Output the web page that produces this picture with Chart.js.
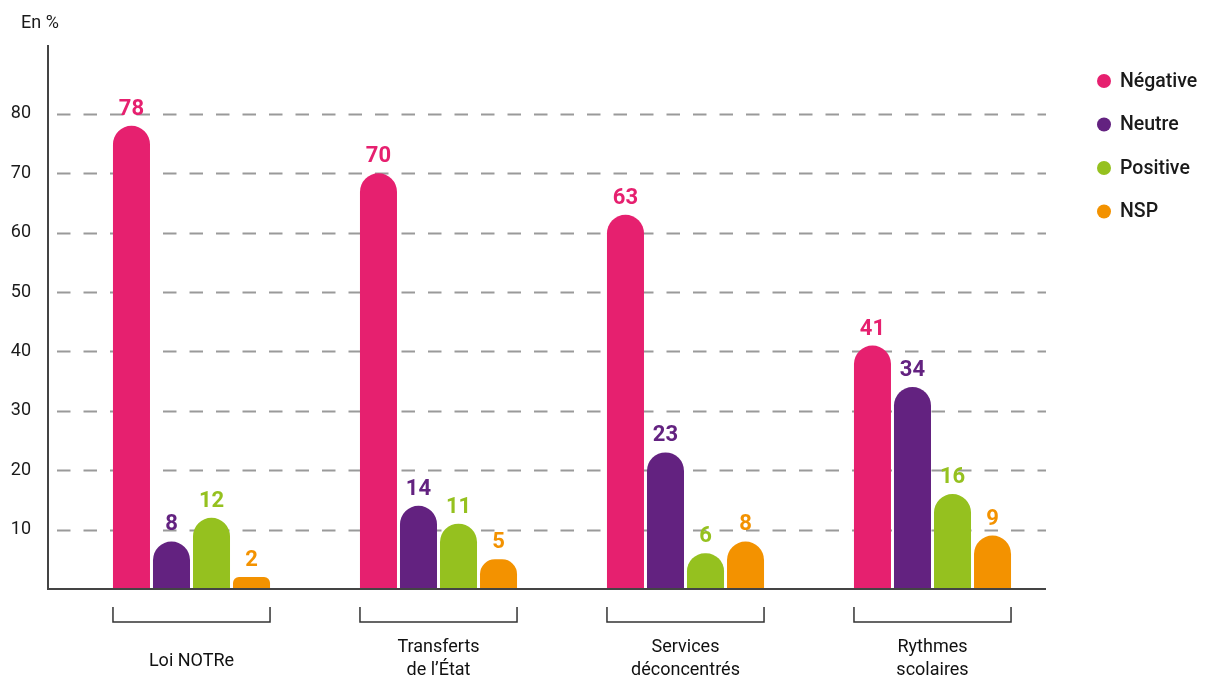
<!DOCTYPE html>
<html>
<head>
<meta charset="utf-8">
<script src="https://cdn.jsdelivr.net/npm/chart.js@4/dist/chart.umd.min.js"></script>
<style>
  html, body { margin: 0; padding: 0; background: #fff; }
  #wrap { width: 1212px; height: 679px; position: relative; }
</style>
</head>
<body>
<div id="wrap"><canvas id="c" width="1212" height="679"></canvas></div>
<script>
// categories (multi-line labels)
const categories = [["Loi NOTRe"], ["Transferts", "de l’État"], ["Services", "déconcentrés"], ["Rythmes", "scolaires"]];
const seriesNames = ["Négative", "Neutre", "Positive", "NSP"];
const negative = [78, 70, 63, 41];
const neutre = [8, 14, 23, 34];
const positive = [12, 11, 6, 16];
const nsp = [2, 5, 8, 9];
const yTicks = [10, 20, 30, 40, 50, 60, 70, 80];
const colors = ["#E6206F", "#632280", "#95C11F", "#F39200"];

const FONT = "Roboto, 'DejaVu Sans', sans-serif";

const decor = {
  id: "decor",
  beforeDatasetsDraw(chart) {
    const ctx = chart.ctx, y = chart.scales.y;
    ctx.save();
    ctx.strokeStyle = "#9a9a9a";
    ctx.lineWidth = 2;
    ctx.setLineDash([13.5, 13]);
    yTicks.forEach(v => {
      const py = Math.round(y.getPixelForValue(v)) + 0.5;
      ctx.beginPath();
      ctx.moveTo(57, py);
      ctx.lineTo(1046, py);
      ctx.stroke();
    });
    ctx.restore();
  },
  afterDatasetsDraw(chart) {
    const ctx = chart.ctx, x = chart.scales.x, y = chart.scales.y;
    ctx.save();
    const base = y.getPixelForValue(0);
    // axes
    ctx.strokeStyle = "#444";
    ctx.lineWidth = 2;
    ctx.beginPath();
    ctx.moveTo(48, 45);
    ctx.lineTo(48, base);
    ctx.lineTo(1046, base);
    ctx.stroke();

    // y tick labels
    ctx.fillStyle = "#1a1a1a";
    ctx.font = "18px " + FONT;
    ctx.textAlign = "right";
    ctx.textBaseline = "middle";
    yTicks.forEach(v => ctx.fillText(String(v), 31, y.getPixelForValue(v)));
    ctx.textAlign = "left";
    ctx.fillText("En %", 21, 23);

    // value labels
    ctx.textAlign = "center";
    ctx.textBaseline = "alphabetic";
    ctx.font = "bold 22px " + FONT;
    chart.data.datasets.forEach((ds, di) => {
      const meta = chart.getDatasetMeta(di);
      ctx.fillStyle = ds.backgroundColor;
      meta.data.forEach((bar, i) => {
        ctx.fillText(String(ds.data[i]), bar.x, bar.y - 11);
      });
    });

    // brackets and category labels
    const first = chart.getDatasetMeta(0).data;
    const last = chart.getDatasetMeta(chart.data.datasets.length - 1).data;
    ctx.strokeStyle = "#333";
    ctx.lineWidth = 1.5;
    ctx.font = "18px " + FONT;
    ctx.fillStyle = "#111";
    ctx.textBaseline = "middle";
    categories.forEach((lab, i) => {
      const l = first[i].x - first[i].width / 2;
      const r = last[i].x + last[i].width / 2;
      ctx.beginPath();
      ctx.moveTo(l, 607);
      ctx.lineTo(l, 622);
      ctx.lineTo(r, 622);
      ctx.lineTo(r, 607);
      ctx.stroke();
      const cx = x.getPixelForValue(i);
      if (lab.length === 1) {
        ctx.fillText(lab[0], cx, 661);
      } else {
        ctx.fillText(lab[0], cx, 647);
        ctx.fillText(lab[1], cx, 670);
      }
    });

    // legend
    ctx.textAlign = "left";
    ctx.font = "500 19.5px " + FONT;
    seriesNames.forEach((n, i) => {
      const ly = 81 + i * 43.5;
      ctx.fillStyle = colors[i];
      ctx.beginPath();
      ctx.arc(1104, ly, 7, 0, Math.PI * 2);
      ctx.fill();
      ctx.fillStyle = "#1a1a1a";
      ctx.fillText(n, 1120, ly + 1);
    });
    ctx.restore();
  }
};

const seriesData = [negative, neutre, positive, nsp];

new Chart(document.getElementById("c"), {
  type: "bar",
  data: {
    labels: categories.map(c => c.join(" ")),
    datasets: seriesNames.map((n, i) => ({
      label: n,
      data: seriesData[i],
      backgroundColor: colors[i],
      borderRadius: { topLeft: 19, topRight: 19, bottomLeft: 0, bottomRight: 0 },
      borderSkipped: "bottom",
      categoryPercentage: 0.648,
      barPercentage: 0.925
    }))
  },
  options: {
    responsive: false,
    animation: false,
    layout: { padding: { left: 68, right: 156, top: 45, bottom: 90 } },
    plugins: { legend: { display: false }, tooltip: { enabled: false } },
    scales: {
      x: { display: false },
      y: { display: false, min: 0, max: 91.6 }
    }
  },
  plugins: [decor]
});
</script>
</body>
</html>
